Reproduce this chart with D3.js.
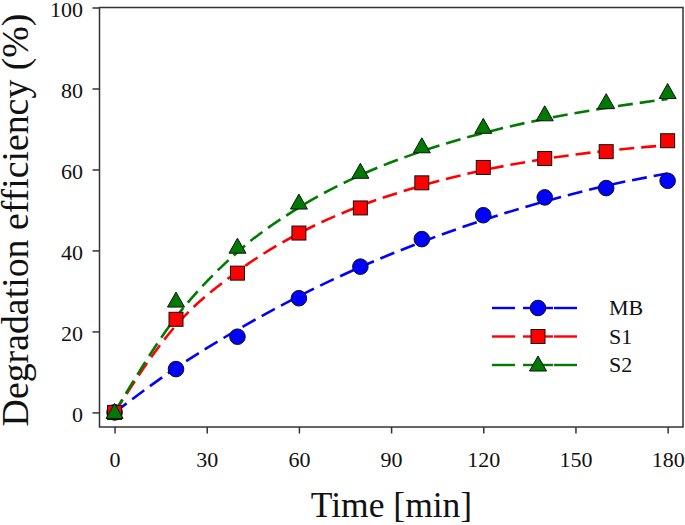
<!DOCTYPE html>
<html><head><meta charset="utf-8">
<script src="https://cdn.jsdelivr.net/npm/d3@7"></script>
<style>body{margin:0;background:#fff}svg{display:block}text{font-family:"Times New Roman","Liberation Serif",Times,serif;fill:#111}</style>
</head><body><svg id="c" width="685" height="525"></svg>
<script>
const times = [0,20,40,60,80,100,120,140,160,180];
const mbValues = [0,10.7,18.7,28.2,36.0,42.8,48.7,53.1,55.4,57.2];
const s1Values = [0,23.0,34.4,44.3,50.5,56.7,60.5,62.7,64.4,67.1];
const s2Values = [0,27.5,40.8,51.7,59.3,65.6,70.4,73.5,76.5,79.0];
const mbFit = [0,11.0,20.4,28.7,35.9,42.1,47.5,52.1,56.0,59.0];
const s1Fit = [0,21.5,34.8,44.2,51.0,56.0,59.8,62.6,64.6,66.0];
const s2Fit = [0,23.5,39.6,50.6,58.6,64.5,69.0,72.5,75.2,77.4];
const seriesNames = ["MB","S1","S2"];
const seriesColors = ["#0000ff","#ff0000","#007a00"];
const xTicks = [0,30,60,90,120,150,180];
const yTicks = [0,20,40,60,80,100];

const FONT = '"Times New Roman","Liberation Serif",Times,serif';
const svg = d3.select("#c");
const L=99.5, R=683, T=7.5, B=427;
const x = d3.scaleLinear().domain([-4.9,185]).range([L,R]);
const y = d3.scaleLinear().domain([-3.6,100]).range([B,T]);

svg.append("rect").attr("x",L).attr("y",T).attr("width",R-L).attr("height",B-T)
  .attr("fill","none").attr("stroke","#333").attr("stroke-width",1.5);

const gx = svg.append("g").attr("transform",`translate(0,${B})`)
  .call(d3.axisBottom(x).tickValues(xTicks).tickSize(6.5).tickPadding(18));
const gy = svg.append("g").attr("transform",`translate(${L},0)`)
  .call(d3.axisLeft(y).tickValues(yTicks).tickSize(7).tickPadding(9.5));
[gx,gy].forEach(g=>{
  g.attr("font-family",FONT);
  g.select(".domain").remove();
  g.selectAll(".tick line").attr("stroke","#333").attr("stroke-width",1.5);
  g.selectAll(".tick text").attr("font-family",FONT).style("font-family",FONT).style("font-size","22px").attr("fill","#111");
});
gy.selectAll(".tick text").attr("dy","0.43em");

svg.append("text").attr("transform","translate(27.5,220) rotate(-90)").attr("text-anchor","middle")
  .attr("font-family",FONT).style("font-size","37.8px").text("Degradation efficiency (%)");
svg.append("text").attr("x",391.5).attr("y",517).attr("text-anchor","middle")
  .attr("font-family",FONT).style("font-size","35.5px").text("Time [min]");

const values=[mbValues,s1Values,s2Values];
const fits=[mbFit,s1Fit,s2Fit];
const line = d3.line().x((d,i)=>x(times[i])).y(d=>y(d)).curve(d3.curveMonotoneX);

function marker(g,k,cx,cy,c){
  if(k===0) g.append("circle").attr("cx",cx).attr("cy",cy).attr("r",7.8).attr("fill",c).attr("stroke","#111").attr("stroke-width",1);
  else if(k===1) g.append("rect").attr("x",cx-7).attr("y",cy-7).attr("width",14).attr("height",14).attr("fill",c).attr("stroke","#111").attr("stroke-width",1);
  else g.append("path").attr("d",`M${cx},${cy-9}L${cx+8.5},${cy+6}L${cx-8.5},${cy+6}Z`).attr("fill",c).attr("stroke","#111").attr("stroke-width",1);
}

fits.forEach((f,k)=>{
  svg.append("path").datum(f).attr("d",line).attr("fill","none")
    .attr("stroke",seriesColors[k]).attr("stroke-width",2.6).attr("stroke-dasharray","15,7");
});
values.forEach((v,k)=>{
  const g=svg.append("g");
  v.forEach((d,i)=>marker(g,k,x(times[i]),y(d),seriesColors[k]));
});

const lg=svg.append("g");
seriesNames.forEach((n,k)=>{
  const yy=308+k*28.5;
  lg.append("line").attr("x1",492).attr("x2",515).attr("y1",yy).attr("y2",yy).attr("stroke",seriesColors[k]).attr("stroke-width",2.4);
  lg.append("line").attr("x1",523).attr("x2",553).attr("y1",yy).attr("y2",yy).attr("stroke",seriesColors[k]).attr("stroke-width",2.4);
  lg.append("line").attr("x1",554).attr("x2",577).attr("y1",yy).attr("y2",yy).attr("stroke",seriesColors[k]).attr("stroke-width",2.4);
  marker(lg,k,538,yy,seriesColors[k]);
  lg.append("text").attr("x",609).attr("y",yy+7).attr("font-family",FONT).style("font-size","22px").text(n);
});
</script></body></html>
